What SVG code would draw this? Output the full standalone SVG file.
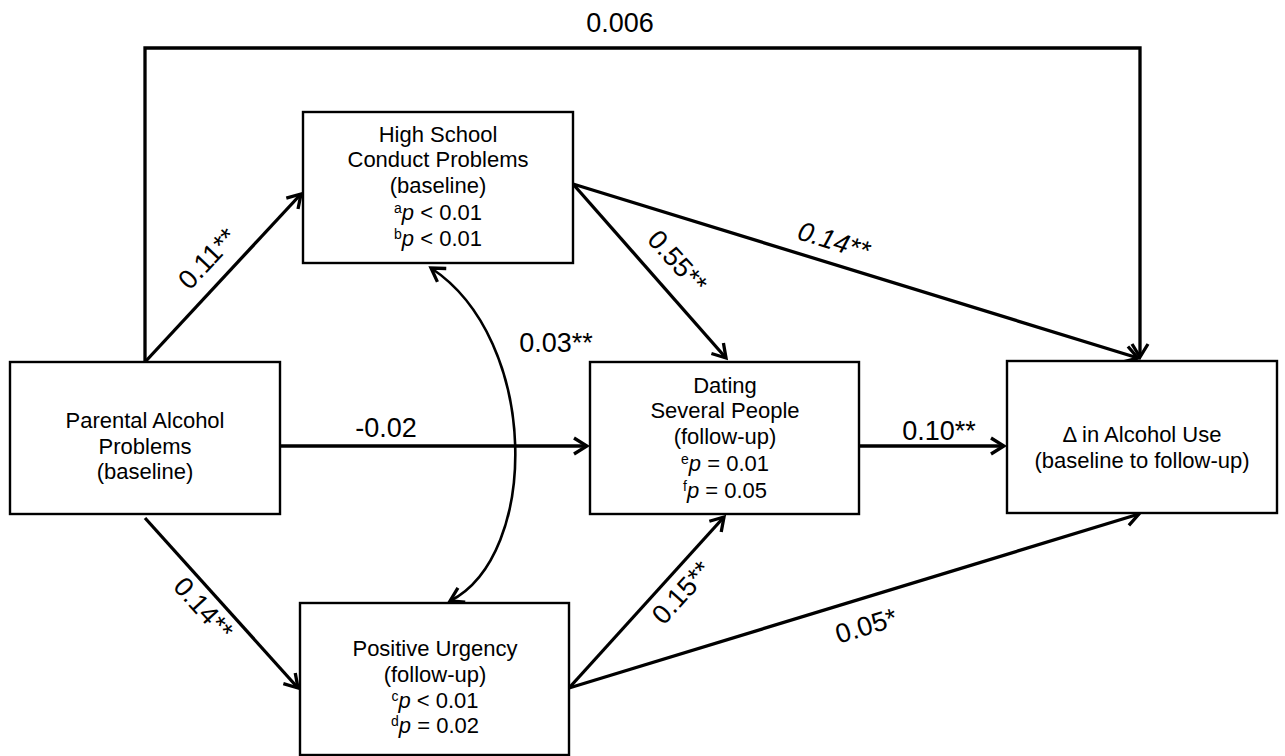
<svg xmlns="http://www.w3.org/2000/svg" width="1285" height="756" viewBox="0 0 1285 756">
<style>
.box{fill:#fff;stroke:#000;stroke-width:2.4}
.t{font-family:"Liberation Sans",Arial,sans-serif;font-size:22px;fill:#000;text-anchor:middle}
.l{font-family:"Liberation Sans",Arial,sans-serif;font-size:27px;fill:#000;text-anchor:middle}
.c{fill:none;stroke:#000;stroke-width:3.3}
.sup{font-size:14px}
</style>
<defs>
<marker id="ah" viewBox="-17 -11 20 22" refX="0" refY="0" markerWidth="20" markerHeight="22" markerUnits="userSpaceOnUse" orient="auto-start-reverse">
<path d="M-13,-8 L0,0 L-13,8" fill="none" stroke="#000" stroke-width="3.3"/>
</marker>
</defs>
<rect width="1285" height="756" fill="#fff"/>
<g id="connectors">
<path class="c" d="M145,362 L145,48 L1140,48 L1140,357" marker-end="url(#ah)"/>
<path class="c" d="M145,362 L301,194" marker-end="url(#ah)"/>
<path class="c" d="M280,446 L587,446" marker-end="url(#ah)"/>
<path class="c" d="M145,518 L298,688" marker-end="url(#ah)"/>
<path class="c" d="M573,184 L726,358" marker-end="url(#ah)"/>
<path class="c" d="M573,184 L1138,358" marker-end="url(#ah)"/>
<path class="c" d="M859,446 L1004,446" marker-end="url(#ah)"/>
<path class="c" d="M569,688 L724,517" marker-end="url(#ah)"/>
<path class="c" d="M569,688 L1139,514" marker-end="url(#ah)"/>
<path class="c" style="stroke-width:2.6" d="M431,268 C540,340 540,555 450,601" marker-start="url(#ah)" marker-end="url(#ah)"/>
<text class="l" x="620" y="32">0.006</text>
<text class="l" transform="translate(207,258) rotate(-46.8)" y="10">0.11**</text>
<text class="l" x="386" y="437">-0.02</text>
<text class="l" x="556" y="352">0.03**</text>
<text class="l" transform="translate(678,261) rotate(47.8)" y="10">0.55**</text>
<text class="l" transform="translate(834,240) rotate(17.2)" y="10" font-style="italic">0.14**</text>
<text class="l" x="939" y="440">0.10**</text>
<text class="l" transform="translate(204,608) rotate(47.8)" y="10">0.14**</text>
<text class="l" transform="translate(681,592) rotate(-47.8)" y="10">0.15**</text>
<text class="l" transform="translate(866,625) rotate(-17)" y="10">0.05*</text>
</g>
<g id="parental">
<rect class="box" x="10" y="362" width="270" height="152"/>
<text class="t" x="145" y="428">Parental Alcohol</text>
<text class="t" x="145" y="454">Problems</text>
<text class="t" x="145" y="479">(baseline)</text>
</g>
<g id="conduct">
<rect class="box" x="303" y="112" width="270" height="151"/>
<text class="t" x="438" y="142">High School</text>
<text class="t" x="438" y="167">Conduct Problems</text>
<text class="t" x="438" y="193">(baseline)</text>
<text class="t" x="438" y="220"><tspan class="sup" dy="-7">a</tspan><tspan font-style="italic" dy="7">p</tspan> &lt; 0.01</text>
<text class="t" x="438" y="246"><tspan class="sup" dy="-7">b</tspan><tspan font-style="italic" dy="7">p</tspan> &lt; 0.01</text>
</g>
<g id="dating">
<rect class="box" x="590" y="362" width="269" height="152"/>
<text class="t" x="725" y="393">Dating</text>
<text class="t" x="725" y="418">Several People</text>
<text class="t" x="725" y="444">(follow-up)</text>
<text class="t" x="725" y="471"><tspan class="sup" dy="-7">e</tspan><tspan font-style="italic" dy="7">p</tspan> = 0.01</text>
<text class="t" x="725" y="498"><tspan class="sup" dy="-7">f</tspan><tspan font-style="italic" dy="7">p</tspan> = 0.05</text>
</g>
<g id="urgency">
<rect class="box" x="300" y="603" width="269" height="152"/>
<text class="t" x="435" y="656">Positive Urgency</text>
<text class="t" x="435" y="682">(follow-up)</text>
<text class="t" x="435" y="708"><tspan class="sup" dy="-7">c</tspan><tspan font-style="italic" dy="7">p</tspan> &lt; 0.01</text>
<text class="t" x="435" y="733"><tspan class="sup" dy="-7">d</tspan><tspan font-style="italic" dy="7">p</tspan> = 0.02</text>
</g>
<g id="alcohol">
<rect class="box" x="1007" y="361" width="270" height="152"/>
<text class="t" x="1142" y="442">Δ in Alcohol Use</text>
<text class="t" x="1142" y="468">(baseline to follow-up)</text>
</g>
</svg>
